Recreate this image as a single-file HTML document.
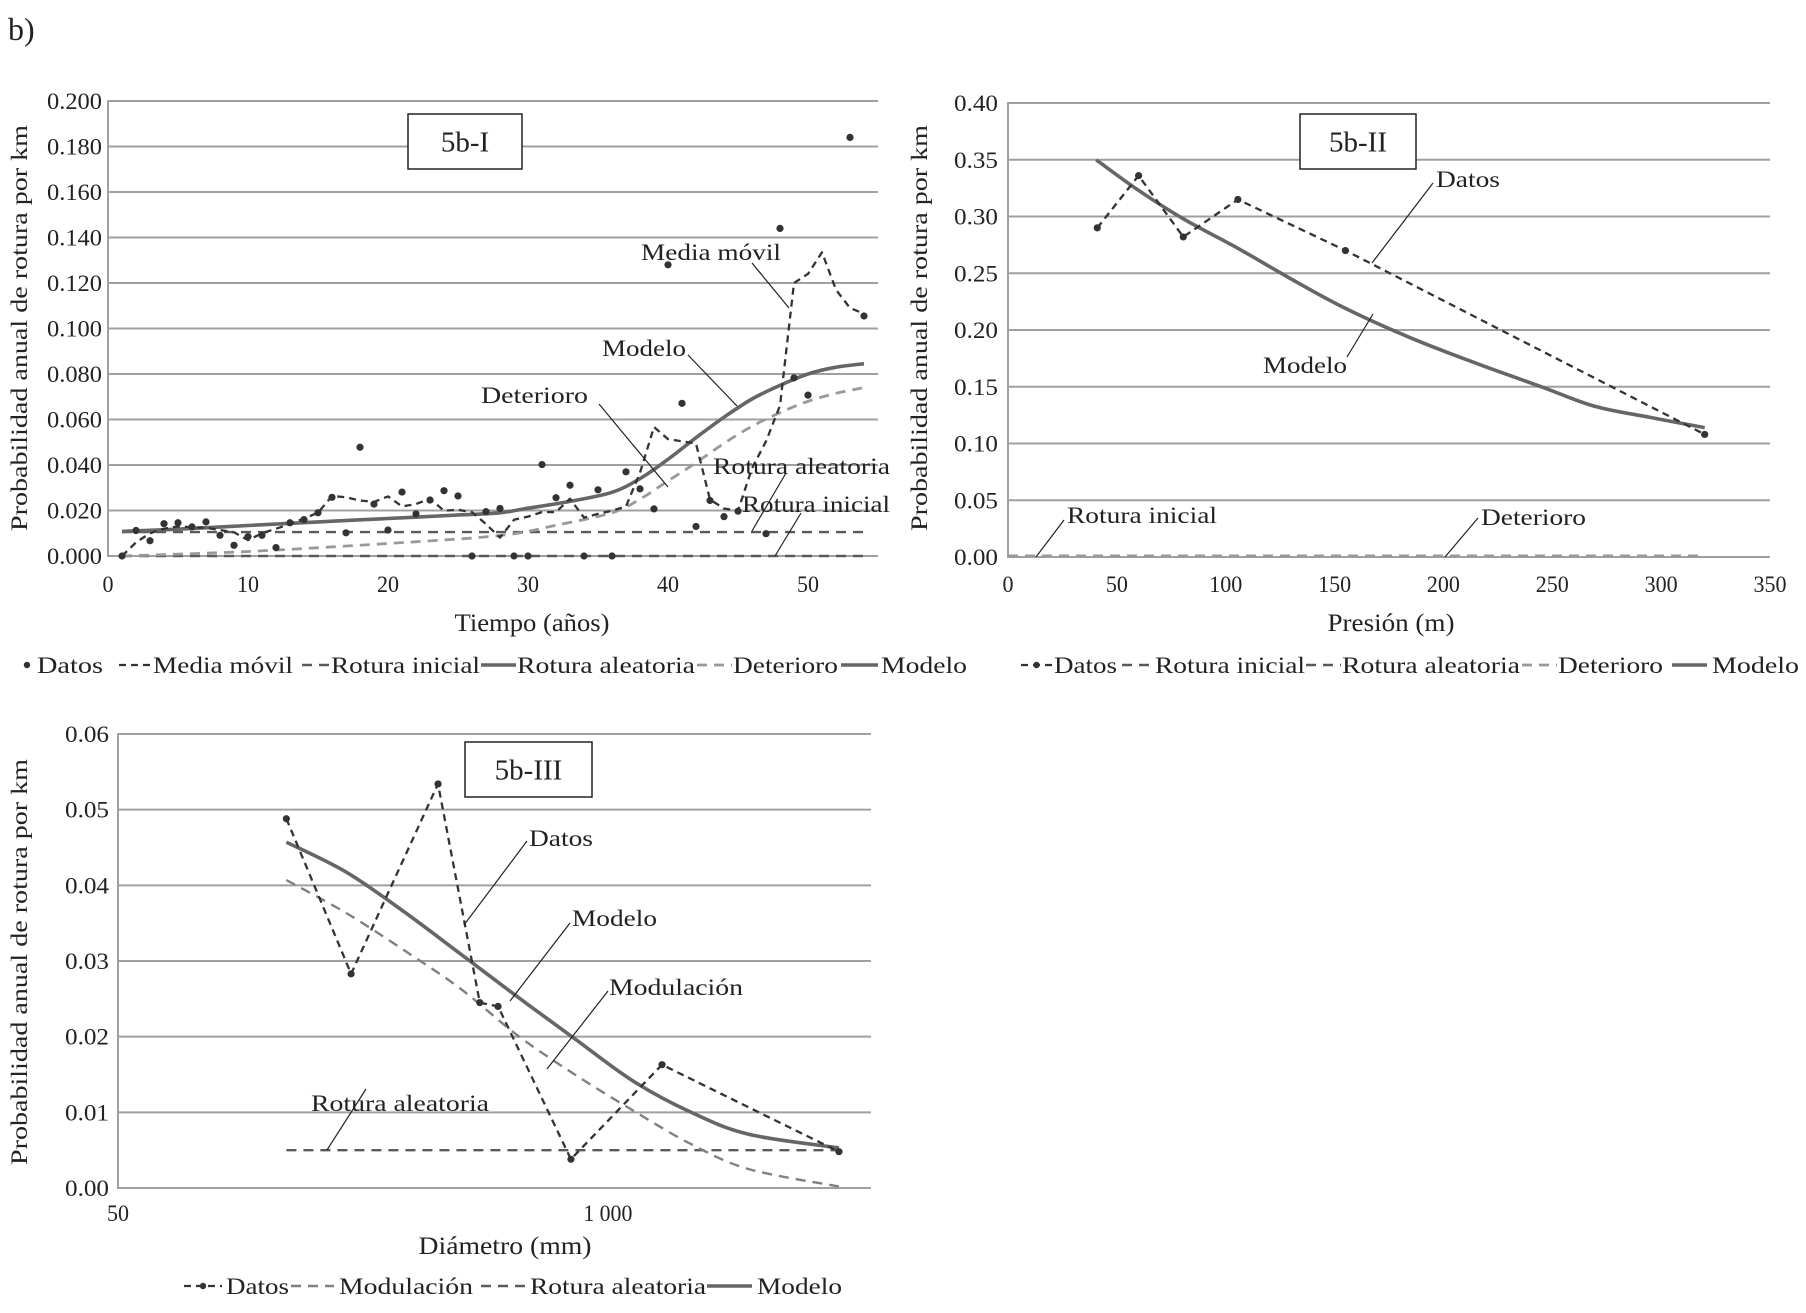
<!DOCTYPE html>
<html><head><meta charset="utf-8">
<style>
html,body{margin:0;padding:0;background:#fff;}
svg{display:block;font-family:"Liberation Serif",serif;}
</style></head>
<body>
<svg id="fig" width="1806" height="1313" viewBox="0 0 1806 1313" xmlns="http://www.w3.org/2000/svg">
<text x="8" y="40" font-size="32" fill="#222">b)</text>
</svg>
<script>
// ---------- Chart 1 data ----------
const c1DatosT = [1,2,3,4,5,6,7,8,9,10,11,12,13,14,15,16,17,18,19,20,21,22,23,24,25,26,27,28,29,30,31,32,33,34,35,36,37,38,39,40,41,42,43,44,45,47,48,49,50,53,54];
const c1DatosV = [0,0.0112,0.0067,0.0142,0.0146,0.0128,0.015,0.0091,0.0047,0.0085,0.0091,0.0037,0.0146,0.016,0.019,0.0258,0.0102,0.0478,0.0228,0.0114,0.0281,0.0185,0.0246,0.0287,0.0264,0,0.0195,0.0209,0,0,0.0402,0.0256,0.0311,0,0.0291,0,0.037,0.0295,0.0207,0.128,0.0671,0.013,0.0244,0.0173,0.0197,0.0098,0.144,0.0783,0.0707,0.184,0.1055];
const c1MediaT = [1,2,3,4,5,7,9,10,11,13,15,16,17,18,19,20,21,22,23,24,25,26,27,28,29,30,31,32,33,34,35,36,37,38,39,40,41,42,43,44,45,46,47,48,49,50,51,52,53,54];
const c1MediaV = [0,0.006,0.01,0.012,0.013,0.0124,0.0104,0.007,0.01,0.014,0.019,0.0264,0.0258,0.0244,0.0238,0.0262,0.0218,0.0228,0.0252,0.0199,0.0203,0.0193,0.014,0.0081,0.0159,0.0173,0.0193,0.0193,0.0252,0.0169,0.0185,0.0199,0.0218,0.0366,0.0567,0.0514,0.0504,0.0494,0.0248,0.0209,0.0199,0.0386,0.0504,0.0661,0.12,0.124,0.1335,0.117,0.109,0.1065];
const c1ModeloT = [1,5,10,15,20,25,28,30,33,36,38,40,42,44,46,48,50,52,54];
const c1ModeloV = [0.0108,0.0118,0.0134,0.015,0.0165,0.018,0.019,0.021,0.024,0.028,0.034,0.0425,0.052,0.061,0.069,0.075,0.08,0.083,0.0845];
const c1DeterT = [1,10,20,28,32,36,38,40,42,44,46,48,50,52,54];
const c1DeterV = [0,0.002,0.0055,0.009,0.0135,0.019,0.025,0.033,0.041,0.0495,0.057,0.063,0.068,0.0715,0.074];
const c1InicialT = [1,54];
const c1InicialV = [0.0105,0.0105];
const c1AleatT = [1,54];
const c1AleatV = [0,0];
const c1YTicks = [0,0.02,0.04,0.06,0.08,0.1,0.12,0.14,0.16,0.18,0.2];
const c1XTicks = [0,10,20,30,40,50];

// ---------- Chart 2 data ----------
const c2DatosX = [41,60,80.5,105.6,155,320];
const c2DatosV = [0.29,0.336,0.282,0.315,0.27,0.108];
const c2ModeloX = [40.5,60,80.5,105.6,130,155,185,216,245,269,295,320];
const c2ModeloV = [0.35,0.323,0.298,0.272,0.245,0.219,0.193,0.17,0.15,0.133,0.123,0.114];
const c2InicialX = [0,320];
const c2InicialV = [0.001,0.001];
const c2YTicks = [0,0.05,0.1,0.15,0.2,0.25,0.3,0.35,0.4];
const c2XTicks = [0,50,100,150,200,250,300,350];

// ---------- Chart 3 data ----------
const c3DatosD = [140,208,354,457,511,798,1393,4110];
const c3DatosV = [0.0488,0.0283,0.0534,0.0245,0.024,0.0038,0.0163,0.0048];
const c3CurveD = [140,201,286,407,578,823,1170,1664,2366,4110];
const c3ModeloV = [0.0457,0.0418,0.0366,0.0309,0.0252,0.0196,0.0141,0.01,0.0071,0.0053];
const c3ModulV = [0.0407,0.0364,0.0315,0.0263,0.0201,0.0149,0.0102,0.0058,0.0025,0.0002];
const c3AleatD = [140,4110];
const c3AleatV = [0.005,0.005];
const c3YTicks = [0,0.01,0.02,0.03,0.04,0.05,0.06];
const c3XTicks = [50,1000];

const NS = "http://www.w3.org/2000/svg";
const svg = document.getElementById('fig');
function mk(tag, attrs, parent){
  const e = document.createElementNS(NS, tag);
  for (const k in attrs) e.setAttribute(k, attrs[k]);
  (parent||svg).appendChild(e);
  return e;
}
function linScale(d0,d1,r0,r1){return v=>r0+(v-d0)/(d1-d0)*(r1-r0);}
function logScale(d0,d1,r0,r1){return v=>r0+(Math.log10(v)-Math.log10(d0))/(Math.log10(d1)-Math.log10(d0))*(r1-r0);}

function axes(g, P, yTicks, xTicks, yFmt, xFmt){
  for (const t of yTicks){
    const y = P.y(t);
    const gl = mk('line',{x1:P.x0,x2:P.x1,y1:y,y2:y,stroke:'#a0a0a0','stroke-width':2},g);
    
    
    const s = yFmt(t);
    const tl = mk('text',{x:P.yLabX,y:y+8,'text-anchor':'end','font-size':23,fill:'#222',textLength:s.length*11,lengthAdjust:'spacingAndGlyphs'},g);
    tl.textContent = s;
    
    
  }
  const ax = mk('line',{x1:P.x0,x2:P.x0,y1:P.y0-1,y2:P.y1+1,stroke:'#a0a0a0','stroke-width':2},g);
  
  
  for (const t of xTicks){
    const x = P.x(t);
    const s = xFmt(t);
    const tl = mk('text',{x:x,y:P.xLabY,'text-anchor':'middle','font-size':23,fill:'#222',textLength:s.replace(' ','').length*11+(s.indexOf(' ')>=0?5:0),lengthAdjust:'spacingAndGlyphs'},g);
    tl.textContent = s;
    
    
  }
}
function path(g, P, xs, vs, style, name, smooth){
  const pts = xs.map((x,i)=>[P.x(x),P.y(vs[i])]);
  let d = 'M'+pts[0][0].toFixed(1)+','+pts[0][1].toFixed(1);
  for (let i=1;i<pts.length;i++){
    if(smooth){
      const p0=pts[Math.max(0,i-2)],p1=pts[i-1],p2=pts[i],p3=pts[Math.min(pts.length-1,i+1)];
      const c1x=p1[0]+(p2[0]-p0[0])/6,c1y=p1[1]+(p2[1]-p0[1])/6;
      const c2x=p2[0]-(p3[0]-p1[0])/6,c2y=p2[1]-(p3[1]-p1[1])/6;
      d+=' C'+c1x.toFixed(1)+','+c1y.toFixed(1)+' '+c2x.toFixed(1)+','+c2y.toFixed(1)+' '+p2[0].toFixed(1)+','+p2[1].toFixed(1);
    } else d+=' L'+pts[i][0].toFixed(1)+','+pts[i][1].toFixed(1);
  }
  const p = mk('path',Object.assign({d:d,fill:'none','stroke-linejoin':'round'},style),g);
  
  
  return p;
}
function dots(g, P, xs, vs, r, name){
  xs.forEach((x,i)=>{
    const c = mk('circle',{cx:P.x(x),cy:P.y(vs[i]),r:r,fill:'#333'},g);
    
    
  });
}
function txt(g,x,y,s,size,name,len){
  const a = {x:x,y:y,'font-size':size,fill:'#222'};
  if(len){a.textLength=len;a.lengthAdjust='spacingAndGlyphs';}
  const t = mk('text',a,g);
  t.textContent = s;
  
  
  return t;
}
function leader(g,x1,y1,x2,y2){
  const l = mk('line',{x1:x1,y1:y1,x2:x2,y2:y2,stroke:'#222','stroke-width':1.2},g);
  
  
}
function box(g,x,y,w,h,s){
  const r = mk('rect',{x:x,y:y,width:w,height:h,fill:'#fff',stroke:'#222','stroke-width':1.5},g);
  
  
  const t = mk('text',{x:x+w/2,y:y+h/2+10,'text-anchor':'middle','font-size':29,fill:'#222'},g);
  t.textContent = s;
  
  
}
function legLine(g,x1,x2,y,style,name,dot){
  const l = mk('line',Object.assign({x1:x1,x2:x2,y1:y,y2:y},style),g);
  
  
  if(dot){
    const c = mk('circle',{cx:(x1+x2)/2,cy:y,r:3.2,fill:'#333'},g);
    
    
  }
}
function ytitle(g,x,y,s){
  const t = mk('text',{x:x,y:y,'text-anchor':'middle','font-size':23,fill:'#222',transform:'rotate(-90 '+x+' '+y+')',textLength:406,lengthAdjust:'spacingAndGlyphs'},g);
  t.textContent = s;
  
  
}
function xtitle(g,x,y,s,len){
  const t = mk('text',{x:x,y:y,'text-anchor':'middle','font-size':25,fill:'#222',textLength:len,lengthAdjust:'spacingAndGlyphs'},g);
  t.textContent = s;
  
  
}

const DARK = {stroke:'#333','stroke-width':2.3,'stroke-dasharray':'7,5'};
const MID = {stroke:'#5a5a5a','stroke-width':2.4,'stroke-dasharray':'10,7'};
const LIGHT = {stroke:'#999','stroke-width':2.8,'stroke-dasharray':'10,7'};
const MODUL = {stroke:'#808080','stroke-width':2.4,'stroke-dasharray':'10,7'};
const SOLID = {stroke:'#666','stroke-width':3.6};

// ===== Chart 1 =====
const g1 = mk('g',{});


const P1 = {x0:108,x1:878,y0:101,y1:556,yLabX:102,xLabY:592};
P1.x = linScale(0,55,108,878); P1.y = linScale(0,0.2,556,101);
axes(g1,P1,c1YTicks,c1XTicks,v=>v.toFixed(3),v=>String(v));
path(g1,P1,c1AleatT,c1AleatV,MID,'series-rotura-aleatoria');
path(g1,P1,c1InicialT,c1InicialV,MID,'series-rotura-inicial');
path(g1,P1,c1DeterT,c1DeterV,LIGHT,'series-deterioro',true);
path(g1,P1,c1ModeloT,c1ModeloV,SOLID,'series-modelo',true);
path(g1,P1,c1MediaT,c1MediaV,DARK,'series-media-movil');
dots(g1,P1,c1DatosT,c1DatosV,3.6,'datos-point');
box(g1,408,114,114,55,'5b-I');
txt(g1,641,260,'Media móvil',23,'annotation-media-movil',140); leader(g1,752,263,789,308);
txt(g1,602,356,'Modelo',23,'annotation-modelo',84); leader(g1,688,355,737,406);
txt(g1,481,403,'Deterioro',23,'annotation-deterioro',107); leader(g1,599,404,668,487);
txt(g1,713,474,'Rotura aleatoria',23,'annotation-rotura-aleatoria',177); leader(g1,786,473,752,531);
txt(g1,742,512,'Rotura inicial',23,'annotation-rotura-inicial',148); leader(g1,801,513,775,556);
ytitle(g1,27,328,'Probabilidad anual de rotura por km');
xtitle(g1,532,631,'Tiempo (años)',155);
const L1y = 665;
let c = mk('circle',{cx:27,cy:L1y,r:3.2,fill:'#333'},g1);


txt(g1,37,L1y+8,'Datos',23,'legend-datos',66);
legLine(g1,119,151,L1y,DARK,'legend-media-movil-line');
txt(g1,153,L1y+8,'Media móvil',23,'legend-media-movil',140);
legLine(g1,302,329,L1y,MID,'legend-rotura-inicial-line');
txt(g1,331,L1y+8,'Rotura inicial',23,'legend-rotura-inicial',149);
legLine(g1,481,516,L1y,SOLID,'legend-rotura-aleatoria-line');
txt(g1,517,L1y+8,'Rotura aleatoria',23,'legend-rotura-aleatoria',178);
legLine(g1,697,732,L1y,LIGHT,'legend-deterioro-line');
txt(g1,733,L1y+8,'Deterioro',23,'legend-deterioro',105);
legLine(g1,841,878,L1y,SOLID,'legend-modelo-line');
txt(g1,881,L1y+8,'Modelo',23,'legend-modelo',86);

// ===== Chart 2 =====
const g2 = mk('g',{});


const P2 = {x0:1008,x1:1770,y0:103,y1:557,yLabX:998,xLabY:592};
P2.x = linScale(0,350,1008,1770); P2.y = linScale(0,0.4,557,103);
axes(g2,P2,c2YTicks,c2XTicks,v=>v.toFixed(2),v=>String(v));
path(g2,P2,c2InicialX,c2InicialV,LIGHT,'series-rotura-inicial-deterioro');
path(g2,P2,c2ModeloX,c2ModeloV,SOLID,'series-modelo',true);
path(g2,P2,c2DatosX,c2DatosV,DARK,'series-datos');
dots(g2,P2,c2DatosX,c2DatosV,3.6,'datos-point');
box(g2,1300,114,116,55,'5b-II');
txt(g2,1436,187,'Datos',23,'annotation-datos',64); leader(g2,1433,183,1372,263);
txt(g2,1263,373,'Modelo',23,'annotation-modelo',84); leader(g2,1347,357,1373,314);
txt(g2,1067,523,'Rotura inicial',23,'annotation-rotura-inicial',150); leader(g2,1064,520,1036,557);
txt(g2,1481,525,'Deterioro',23,'annotation-deterioro',105); leader(g2,1478,518,1445,557);
ytitle(g2,927,328,'Probabilidad anual de rotura por km');
xtitle(g2,1391,631,'Presión (m)',127);
const L2y = 665;
legLine(g2,1021,1052,L2y,DARK,'legend-datos-line',true);
txt(g2,1054,L2y+8,'Datos',23,'legend-datos',63);
legLine(g2,1122,1154,L2y,MID,'legend-rotura-inicial-line');
txt(g2,1155,L2y+8,'Rotura inicial',23,'legend-rotura-inicial',150);
legLine(g2,1306,1341,L2y,MID,'legend-rotura-aleatoria-line');
txt(g2,1342,L2y+8,'Rotura aleatoria',23,'legend-rotura-aleatoria',178);
legLine(g2,1522,1557,L2y,LIGHT,'legend-deterioro-line');
txt(g2,1558,L2y+8,'Deterioro',23,'legend-deterioro',105);
legLine(g2,1672,1707,L2y,SOLID,'legend-modelo-line');
txt(g2,1712,L2y+8,'Modelo',23,'legend-modelo',87);

// ===== Chart 3 =====
const g3 = mk('g',{});


const P3 = {x0:118,x1:871,y0:734,y1:1188,yLabX:109,xLabY:1221};
P3.x = logScale(50,5000,118,871); P3.y = linScale(0,0.06,1188,734);
axes(g3,P3,c3YTicks,c3XTicks,v=>v.toFixed(2),v=>v>=1000?'1 000':String(v));
path(g3,P3,c3AleatD,c3AleatV,MID,'series-rotura-aleatoria');
path(g3,P3,c3CurveD,c3ModulV,MODUL,'series-modulacion',true);
path(g3,P3,c3CurveD,c3ModeloV,SOLID,'series-modelo',true);
path(g3,P3,c3DatosD,c3DatosV,DARK,'series-datos');
dots(g3,P3,c3DatosD,c3DatosV,3.6,'datos-point');
box(g3,465,742,127,55,'5b-III');
txt(g3,529,846,'Datos',23,'annotation-datos',64); leader(g3,527,841,464,925);
txt(g3,572,926,'Modelo',23,'annotation-modelo',85); leader(g3,570,923,510,1001);
txt(g3,609,995,'Modulación',23,'annotation-modulacion',134); leader(g3,608,991,547,1069);
txt(g3,311,1111,'Rotura aleatoria',23,'annotation-rotura-aleatoria',178); leader(g3,366,1089,327,1150);
ytitle(g3,27,962,'Probabilidad anual de rotura por km');
xtitle(g3,505,1254,'Diámetro (mm)',173);
const L3y = 1286;
legLine(g3,184,222,L3y,DARK,'legend-datos-line',true);
txt(g3,226,L3y+8,'Datos',23,'legend-datos',63);
legLine(g3,291,334,L3y,MODUL,'legend-modulacion-line');
txt(g3,339,L3y+8,'Modulación',23,'legend-modulacion',134);
legLine(g3,481,527,L3y,MID,'legend-rotura-aleatoria-line');
txt(g3,530,L3y+8,'Rotura aleatoria',23,'legend-rotura-aleatoria',176);
legLine(g3,707,752,L3y,SOLID,'legend-modelo-line');
txt(g3,757,L3y+8,'Modelo',23,'legend-modelo',85);
</script>
</body></html>
